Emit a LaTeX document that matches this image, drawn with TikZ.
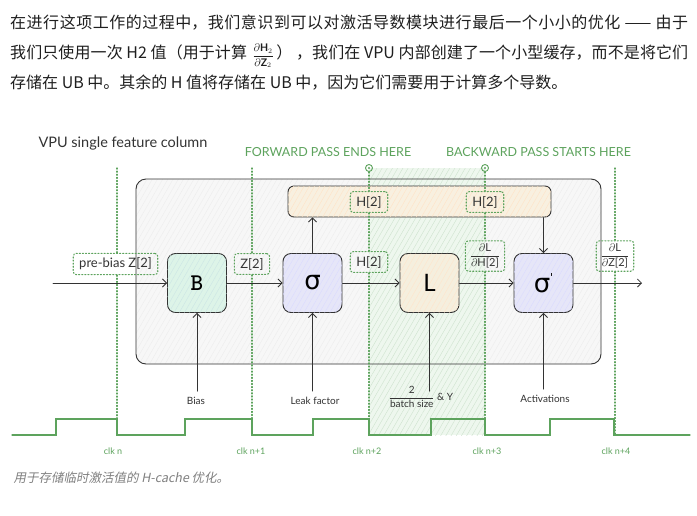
\documentclass[tikz,border=0pt]{standalone}
\usepackage{fontspec}
\setmainfont{Lato}
\newfontfamily\cjkfont{Noto Sans CJK SC}
\newfontfamily\capfont[FakeSlant=0.2]{Noto Sans CJK SC}
\newfontfamily\blksym{DejaVu Sans}
\usetikzlibrary{arrows.meta,patterns.meta}
\XeTeXlinebreaklocale "zh"
\XeTeXlinebreakskip=0pt plus 1.5pt
\definecolor{ink}{HTML}{333333}
\definecolor{clkgreen}{HTML}{5DA35D}
\definecolor{vpugray}{HTML}{F7F7F7}
\definecolor{zonegreen}{HTML}{EEF7EE}
\definecolor{biasgreen}{HTML}{DDF4E8}
\definecolor{siglav}{HTML}{E6E6F8}
\definecolor{lossbeige}{HTML}{F5EFDE}
\definecolor{cachebeige}{HTML}{F8F0E0}
\newcommand{\gradlabel}[2]{$\displaystyle\frac{\partial\mbox{#1}}{\partial\mbox{#2}}$}

\begin{document}
\begin{tikzpicture}[x=1pt, y=-1pt, line cap=round,
    blk/.style={draw=ink, line width=0.9pt, rounded corners=8pt, minimum width=59pt, minimum height=59pt, inner sep=0pt},
    hatch/.style={postaction={pattern={Lines[angle=60,distance=4.5pt,line width=0.4pt]}, pattern color=#1}},
    tag/.style={draw=clkgreen, dotted, line width=1.1pt, rounded corners=3pt, inner xsep=6pt, inner ysep=4.5pt, text=ink, font=\fontsize{13}{15}\selectfont},
    grad/.style={tag, inner xsep=4.5pt, inner ysep=3pt, font=\fontsize{11}{12}\selectfont},
    clkline/.style={clkgreen, dotted, line width=1.1pt},
    wire/.style={ink, line width=0.8pt, -{Straight Barb[length=4pt,width=8pt]}},
    feed/.style={text=ink, inner sep=6pt, font=\fontsize{10}{12}\selectfont},
    clklabel/.style={text=clkgreen, font=\fontsize{9}{10}\selectfont},
    banner/.style={text=clkgreen, font=\fontsize{12.5}{14}\selectfont},
    passmark/.style={circle, draw=clkgreen, line width=0.9pt, minimum size=7pt, inner sep=0pt}]

    \useasboundingbox (0,0) rectangle (697,515);
    \fill [white] (0,0) rectangle (697,515);

    \node [anchor=north west] [inner sep=0pt, text width=678pt, align=justify] [text=black!88, font=\cjkfont\fontsize{16}{30}\selectfont] (intro) at (10,15)
        {在进行这项工作的过程中，我们意识到可以对激活导数模块进行最后一个小小的优化 —— 由于\linebreak
        我们只使用一次 H2 值（用于计算\,\,{\fontsize{10.5}{11}\selectfont$\displaystyle\frac{\partial\mathbf{H}_2}{\partial\mathbf{Z}_2}$}\,） ，我们在 VPU 内部创建了一个小型缓存，而不是将它们\linebreak
        存储在 UB 中。其余的 H 值将存储在 UB 中，因为它们需要用于计算多个导数。};
    \node [anchor=west] [text=black!50, font=\capfont\fontsize{12.5}{14}\selectfont] (caption) at (10,478) {用于存储临时激活值的 H-cache 优化。};

    \node [anchor=west] [text=ink, font=\fontsize{14.5}{16}\selectfont] (title) at (35,143) {VPU single feature column};
    \node [banner] (fwd) at (328,152) {FORWARD PASS ENDS HERE};
    \node [banner] (bwd) at (538.5,152) {BACKWARD PASS STARTS HERE};

    \fill [vpugray, rounded corners=10pt, hatch=black!7] (136,179) rectangle (601,364);
    \fill [zonegreen, hatch=clkgreen!30] (369,168) rectangle (485,435);
    \draw [ink, line width=0.9pt, rounded corners=10pt] (136,179) rectangle (601,364);

    \node [blk] [fill=cachebeige, hatch=orange!22, minimum width=263pt, minimum height=31pt, rounded corners=6pt] (cache) at (419.5,201.5) {};
    \node [blk] [fill=biasgreen, hatch=teal!20, font=\ttfamily\bfseries\fontsize{24}{24}\selectfont] (addb) at (197,283) {B};
    \node [blk] [fill=siglav, hatch=blue!14, font=\blksym\fontsize{26}{26}\selectfont] (act) at (312.5,283) {σ};
    \node [blk] [fill=lossbeige, hatch=orange!20, font=\fontsize{24}{24}\selectfont] (loss) at (429.5,283) {L};
    \node [blk] [fill=siglav, hatch=blue!14, font=\blksym\fontsize{26}{26}\selectfont] (dact) at (543.5,283) {σ\raisebox{0.4em}{\fontsize{11}{11}\selectfont '}};

    \node [tag] (zin) at (115.5,264) {pre-bias Z[2]};
    \node [tag] (zb) at (252,264) {Z[2]};
    \node [tag] (hs) at (369,262) {H[2]};
    \node [tag] (hc1) at (369,202) {H[2]};
    \node [tag] (hc2) at (485,202) {H[2]};
    \node [grad] (dh) at (485,256) {\gradlabel{L}{H[2]}};
    \node [grad] (dz) at (615,256) {\gradlabel{L}{Z[2]}};

    \node [passmark] (fwdmark) at (369,168) {};
    \node [passmark] (bwdmark) at (485,168) {};
    \fill [clkgreen] (fwdmark) circle (1.1pt);
    \fill [clkgreen] (bwdmark) circle (1.1pt);

    \coordinate (clk0top) at (117,168);
    \coordinate (clk0bot) at (117,436);
    \coordinate (clk1top) at (252,168);
    \coordinate (clk1bot) at (252,436);
    \coordinate (clk2bot) at (369,436);
    \coordinate (clk3bot) at (485,436);
    \coordinate (clk4top) at (615,168);
    \coordinate (clk4bot) at (615,436);

    \draw [clkline] (clk0top) to (clk0top |- zin.north) (clk0top |- zin.south) to (clk0bot);
    \draw [clkline] (clk1top) to (zb.north) (zb.south) to (clk1bot);
    \draw [clkline] (fwdmark.south) to (hc1.north) (hc1.south) to (hs.north) (hs.south) to (clk2bot);
    \draw [clkline] (bwdmark.south) to (hc2.north) (hc2.south) to (dh.north) (dh.south) to (clk3bot);
    \draw [clkline] (clk4top) to (dz.north) (dz.south) to (clk4bot);

    \coordinate (zsrc) at (53,283);
    \coordinate (hsink) at (642,283);
    \draw [wire] (zsrc) to (addb.west);
    \draw [wire] (addb) to (act);
    \draw [wire] (act) to (loss);
    \draw [wire] (loss) to (dact);
    \draw [wire] (dact.east) to (hsink);
    \draw [wire] (act.north) to (act.north |- cache.south);
    \draw [wire] (dact.north |- cache.south) to (dact.north);

    \node [feed] (biasin) at (196,401) {Bias};
    \node [feed] (leakin) at (315,401) {Leak factor};
    \node [feed] (scalein) at (421,397) {$\displaystyle\frac{\mbox{2}}{\mbox{batch size}}$ \& Y};
    \node [feed] (actin) at (545,399) {Activations};
    \draw [wire] (addb.south |- biasin.north) to (addb.south);
    \draw [wire] (act.south |- leakin.north) to (act.south);
    \draw [wire] (loss.south |- biasin.north) to (loss.south);
    \draw [wire] (dact.south |- actin.north) to (dact.south);

    \draw [clkgreen, line width=1.3pt] (12,435) -| (56,419) -| (117,435) -| (185,419) -| (252,435) -| (313,419) -| (369,435)
        -| (431,419) -| (485,435) -| (550,419) -| (614,435) -- (690,435);

    \node [clklabel] (clkn) at (113,451) {clk n};
    \node [clklabel] (clkn1) at (251,451) {clk n+1};
    \node [clklabel] (clkn2) at (367,451) {clk n+2};
    \node [clklabel] (clkn3) at (487,451) {clk n+3};
    \node [clklabel] (clkn4) at (616,451) {clk n+4};

\end{tikzpicture}
\end{document}
